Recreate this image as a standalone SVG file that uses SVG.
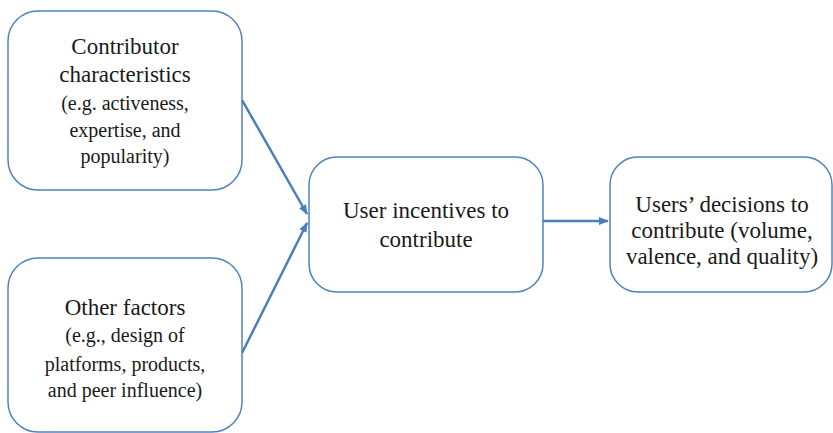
<svg xmlns="http://www.w3.org/2000/svg" width="833" height="433" viewBox="0 0 833 433">
<defs>
<marker id="ah" viewBox="0 0 10 10" refX="9" refY="5" markerWidth="4" markerHeight="4" orient="auto" markerUnits="strokeWidth">
<path d="M0,1 L10,5 L0,9 z" fill="#4a7ebb"/>
</marker>
<style>
.box{fill:#fff;stroke:#4f81bd;stroke-width:1.5}
.c{stroke:#4a7ebb;stroke-width:2.5;fill:none;marker-end:url(#ah)}
.t{font-family:"Times New Roman","Liberation Serif","DejaVu Serif",serif;fill:#1a1a1a;text-anchor:middle}
.l{font-size:23px}
.s{font-size:20px}
</style>
</defs>
<rect width="833" height="433" fill="#fff"/>
<g id="connectors">
<line class="c" x1="242" y1="100" x2="307" y2="214"/>
<line class="c" x1="242" y1="353" x2="307" y2="223"/>
<line class="c" x1="543" y1="221" x2="608" y2="221"/>
</g>
<g id="contributor">
<rect class="box" x="8" y="11" width="234" height="179" rx="30"/>
<text class="t l" x="125" y="54">Contributor</text>
<text class="t l" x="125" y="82">characteristics</text>
<text class="t s" x="125" y="110">(e.g. activeness,</text>
<text class="t s" x="125" y="137">expertise, and</text>
<text class="t s" x="125" y="163">popularity)</text>
</g>
<g id="other">
<rect class="box" x="8" y="258" width="234" height="174" rx="30"/>
<text class="t l" x="125" y="315">Other factors</text>
<text class="t s" x="125" y="342">(e.g., design of</text>
<text class="t s" x="125" y="371">platforms, products,</text>
<text class="t s" x="125" y="397">and peer influence)</text>
</g>
<g id="incentives">
<rect class="box" x="309" y="157" width="234" height="135" rx="28"/>
<text class="t l" x="426" y="218">User incentives to</text>
<text class="t l" x="426" y="247">contribute</text>
</g>
<g id="decisions">
<rect class="box" x="610" y="157" width="222" height="135" rx="28"/>
<text class="t l" x="722" y="212">Users’ decisions to</text>
<text class="t l" x="722" y="238">contribute (volume,</text>
<text class="t l" x="722" y="264">valence, and quality)</text>
</g>
</svg>
